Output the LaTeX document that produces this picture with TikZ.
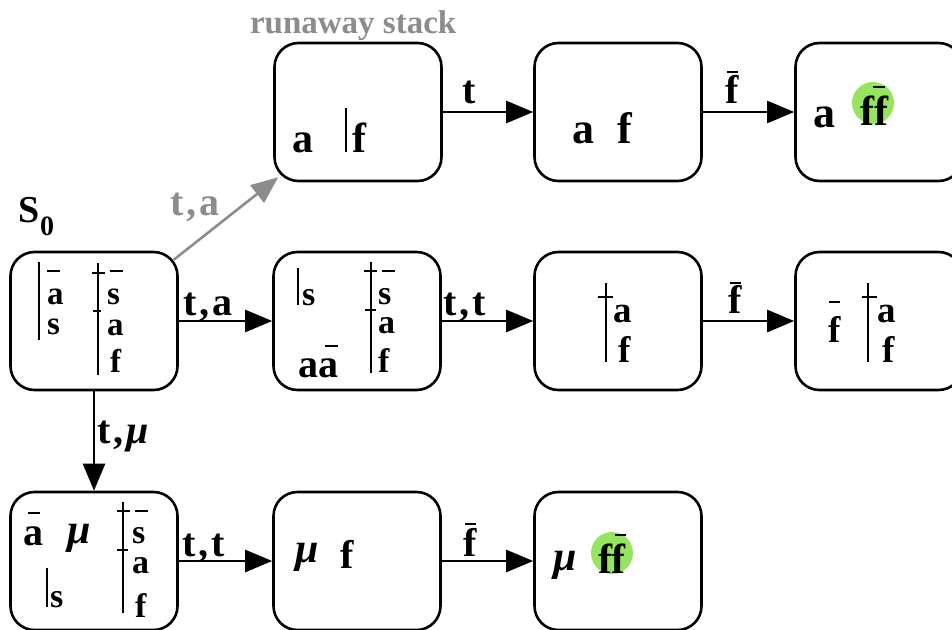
\documentclass[tikz,border=0pt]{standalone}
\usepackage{fontspec}
\setmainfont{Liberation Serif}
\usetikzlibrary{arrows.meta}
\definecolor{muted}{HTML}{8C8C8C}
\definecolor{hilite}{HTML}{95E55F}
\newcommand{\fsz}[1]{\fontsize{#1}{#1}\selectfont\bfseries}
\newcommand{\cm}{\kern3pt,\kern3pt}
\tikzset{
  state/.style={draw, line width=2.6pt, rounded corners=24pt,
    minimum width=167pt, minimum height=138pt, inner sep=0pt},
  trans/.style={line width=2.6pt, -{Triangle[length=27pt,width=22pt]}},
  sym/.style={anchor=base west, inner sep=0pt, outer sep=0pt, text depth=0pt},
  low/.style={sym, text height=0.5em},
  lbl/.style={sym, font=\fsz{40}},
  stackrule/.style={line width=2.2pt},
  ovl/.style={line width=2pt},
}
\begin{document}
\begin{tikzpicture}[x=1pt, y=-1pt]
\useasboundingbox (0,0) rectangle (952,629);
\begin{scope}
\clip (0,0) rectangle (952,629);

% states
\node[state] (r1c1) at (358,112) {};
\node[state] (r1c2) at (618,112) {};
\node[state] (r1c3) at (879,112) {};
\node[state] (r2c1) at (94,321) {};
\node[state] (r2c2) at (357,321) {};
\node[state] (r2c3) at (618,321) {};
\node[state] (r2c4) at (879,321) {};
\node[state] (r3c1) at (94,561) {};
\node[state] (r3c2) at (357,561) {};
\node[state] (r3c3) at (618,561) {};

% transitions
\draw[trans] (r1c1.east) -- (r1c2.west);
\draw[trans] (r1c2.east) -- (r1c3.west);
\draw[trans] (r2c1.east) -- (r2c2.west);
\draw[trans] (r2c2.east) -- (r2c3.west);
\draw[trans] (r2c3.east) -- (r2c4.west);
\draw[trans] (r3c1.east) -- (r3c2.west);
\draw[trans] (r3c2.east) -- (r3c3.west);
\draw[trans] (r2c1.south) -- (r3c1.north);
\coordinate (gstart) at ([xshift=-5pt,yshift=-9pt]r2c1.north east);
\coordinate (gend) at ([xshift=5pt,yshift=5pt]r1c1.south west);
\draw[trans, muted] (gstart) -- (gend);

% transition labels
\node[lbl] (lt1) at (462,103) {t};
\node[lbl] (lf1) at (725,103) {f};
\draw[ovl] (727,72) -- (738,72);
\node[lbl] (lta) at (183,315) {t\cm a};
\node[lbl] (ltt) at (443,315) {t\cm t};
\node[lbl] (lf2) at (728,313) {f};
\draw[ovl] (730,283) -- (741,283);
\node[lbl] (ltt3) at (182,556) {t\cm t};
\node[lbl] (lf3) at (463,556) {f};
\draw[ovl] (465,524) -- (476,524);
\node[lbl] (ltmu) at (97,443) {t\cm{\itshape μ}};
\node[lbl, text=muted] (lgta) at (170,215) {t\cm a};
\node[sym, font=\fsz{33}, text=muted] (title) at (250,33) {runaway stack};
\node[sym, font=\fsz{38}] (s0) at (18,222) {S};
\node[sym, font=\fsz{28}] (s0sub) at (40,235) {0};

% row 1 contents
\node[sym, font=\fsz{42}] (a11) at (292,152) {a};
\draw[stackrule] (346,108) -- (346,152);
\node[sym, font=\fsz{42}] (f11) at (352,152) {f};
\node[sym, font=\fsz{44}] (a12) at (572,143) {a};
\node[sym, font=\fsz{44}] (f12) at (617,143) {f};
\node[sym, font=\fsz{44}] (a13) at (813,127) {a};
\fill[hilite] (873,103) circle (21);
\node[sym, font=\fsz{42}] (ff13) at (860,125) {ff};
\draw[ovl] (873,87) -- (885,87);

% row 2, first state
\draw[stackrule] (39,262) -- (39,340);
\node[low, font=\fsz{33}] (a21) at (47,304) {a};
\draw[ovl] (47,271) -- (60,271);
\node[low, font=\fsz{33}] (s21) at (47,334) {s};
\draw[stackrule] (98,263) -- (98,375);
\draw[stackrule] (92,273) -- (105,273);
\draw[stackrule] (93,311) -- (101,311);
\node[low, font=\fsz{33}] (sb21) at (107,304) {s};
\draw[ovl] (110,271) -- (123,271);
\node[low, font=\fsz{33}] (ab21) at (107,335) {a};
\node[sym, font=\fsz{33}] (fb21) at (110,372) {f};

% row 2, second state
\draw[stackrule] (298,268) -- (298,305);
\node[low, font=\fsz{34}] (s22) at (302,305) {s};
\draw[stackrule] (371,262) -- (371,373);
\draw[stackrule] (364,271) -- (377,271);
\draw[stackrule] (365,310) -- (376,310);
\node[low, font=\fsz{34}] (sb22) at (378,304) {s};
\draw[ovl] (382,271) -- (395,271);
\node[low, font=\fsz{34}] (ab22) at (378,333) {a};
\node[sym, font=\fsz{34}] (fb22) at (378,372) {f};
\node[low, font=\fsz{40}] (aa22) at (298,377) {aa};
\draw[ovl] (325,346) -- (338,346);

% row 2, third state
\draw[stackrule] (606,283) -- (606,362);
\draw[stackrule] (598,297) -- (613,297);
\node[low, font=\fsz{37}] (a23) at (613,322) {a};
\node[sym, font=\fsz{37}] (f23) at (618,362) {f};

% row 2, fourth state
\node[sym, font=\fsz{37}] (fl24) at (828,342) {f};
\draw[ovl] (829,302) -- (840,302);
\draw[stackrule] (868,283) -- (868,362);
\draw[stackrule] (862,297) -- (877,297);
\node[low, font=\fsz{37}] (a24) at (877,322) {a};
\node[sym, font=\fsz{37}] (f24) at (882,362) {f};

% row 3, first state
\node[low, font=\fsz{40}] (a31) at (23,545) {a};
\draw[ovl] (28,513) -- (40,513);
\node[low, font=\fsz{42}\itshape] (mu31) at (67,543) {μ};
\draw[stackrule] (47,568) -- (47,607);
\node[low, font=\fsz{34}] (s31) at (50,607) {s};
\draw[stackrule] (123,502) -- (123,613);
\draw[stackrule] (117,511) -- (130,511);
\draw[stackrule] (117,550) -- (128,550);
\node[low, font=\fsz{34}] (sb31) at (132,543) {s};
\draw[ovl] (135,511) -- (148,511);
\node[low, font=\fsz{34}] (ab31) at (132,573) {a};
\node[sym, font=\fsz{34}] (fb31) at (135,617) {f};

% row 3, second state
\node[sym, font=\fsz{42}\itshape] (mu32) at (295,562) {μ};
\node[sym, font=\fsz{40}] (f32) at (340,568) {f};

% row 3, third state
\node[sym, font=\fsz{42}\itshape] (mu33) at (553,570) {μ};
\fill[hilite] (612,553) circle (21);
\node[sym, font=\fsz{42}] (ff33) at (598,573) {ff};
\draw[ovl] (615,535) -- (626,535);
\end{scope}
\end{tikzpicture}
\end{document}
